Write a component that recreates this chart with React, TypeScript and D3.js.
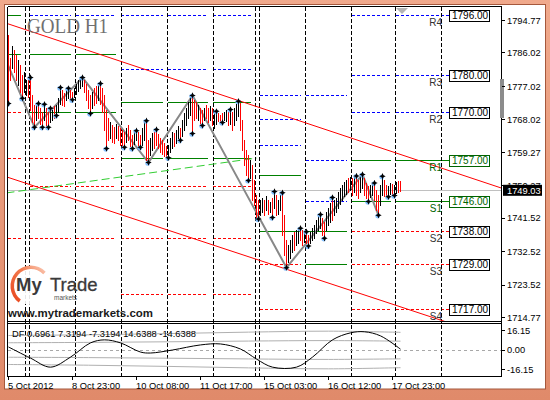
import React from 'react';
import * as d3 from 'd3';

// Hourly OHLC bars, 5 Oct 2012 15:00 .. 18 Oct 2012 (index = bar number)
const opens = [
  1790.0,1784.0,1782.4,1786.2,1784.8,1778.0,1782.0,1779.4,1776.0,1775.1,
  1778.1,1778.9,1774.0,1771.2,1768.4,1771.9,1770.5,1769.5,1768.4,1770.6,
  1769.4,1767.8,1768.2,1771.2,1769.6,1770.5,1772.7,1775.4,1774.6,1773.6,
  1774.2,1775.5,1775.0,1774.4,1775.3,1776.1,1776.9,1777.4,1778.2,1777.0,
  1775.3,1774.0,1771.6,1776.0,1776.5,1773.7,1777.2,1775.9,1774.0,1769.8,
  1767.8,1763.5,1766.0,1765.5,1763.5,1765.7,1765.1,1764.6,1764.1,1762.4,
  1766.0,1764.6,1763.3,1761.9,1762.9,1764.1,1763.3,1761.6,1763.0,1767.2,
  1762.0,1758.9,1760.3,1764.1,1764.9,1763.6,1762.5,1762.0,1761.1,1760.3,
  1758.3,1759.7,1760.8,1763.8,1762.1,1763.5,1765.2,1764.0,1765.6,1767.0,
  1768.9,1769.7,1774.0,1772.7,1772.2,1768.3,1770.6,1770.0,1768.3,1771.4,
  1770.6,1768.3,1770.6,1766.2,1767.3,1769.2,1768.8,1769.2,1768.2,1767.8,
  1769.5,1767.3,1769.5,1767.0,1768.3,1769.4,1771.9,1767.2,1761.9,1759.2,
  1757.9,1752.7,1755.1,1751.1,1747.0,1745.7,1742.8,1743.6,1745.8,1744.1,
  1745.8,1743.6,1746.3,1744.6,1747.1,1743.0,1744.1,1747.8,1741.7,1734.9,
  1730.1,1731.2,1732.8,1737.2,1734.7,1735.2,1738.3,1737.7,1735.4,1737.4,
  1736.4,1735.1,1736.0,1736.5,1737.9,1738.7,1739.3,1740.9,1739.9,1738.7,
  1740.1,1740.9,1746.6,1742.8,1743.6,1744.6,1745.7,1746.8,1747.9,1748.4,
  1751.7,1749.5,1751.7,1748.9,1752.2,1751.2,1748.9,1750.0,1751.7,1750.4,
  1749.6,1747.6,1748.1,1750.4,1748.4,1747.1,1745.4,1748.1,1751.2,1749.8,
  1747.8,1748.3,1750.2,1748.0,1748.6,1751.0,1750.6,
];
const highs = [
  1790.7,1784.5,1787.8,1786.7,1785.4,1784.0,1782.7,1780.0,1780.8,1778.6,
  1778.6,1779.4,1774.6,1771.9,1771.9,1772.4,1771.1,1770.0,1772.2,1771.1,
  1770.0,1771.1,1770.5,1771.6,1771.9,1773.8,1776.7,1775.9,1775.1,1775.9,
  1776.5,1775.9,1775.4,1776.5,1777.5,1778.6,1778.9,1779.4,1778.6,1777.5,
  1775.9,1774.6,1775.4,1776.5,1777.0,1777.3,1777.8,1776.5,1774.6,1770.5,
  1768.4,1767.3,1766.5,1766.0,1766.8,1766.2,1765.7,1765.1,1764.6,1765.7,
  1766.5,1765.1,1763.8,1764.6,1765.1,1764.6,1763.8,1765.7,1767.3,1767.8,
  1762.5,1763.0,1764.3,1764.6,1765.4,1764.1,1763.0,1762.5,1761.6,1760.8,
  1761.1,1763.0,1764.6,1764.3,1765.1,1766.2,1765.7,1767.8,1769.7,1771.1,
  1772.7,1774.0,1774.6,1773.2,1772.7,1771.9,1771.1,1770.5,1771.1,1771.9,
  1771.1,1771.6,1771.1,1770.0,1770.3,1769.7,1769.2,1769.7,1770.0,1770.5,
  1770.0,1770.8,1770.0,1771.1,1772.2,1773.0,1772.4,1767.8,1762.5,1759.8,
  1758.4,1757.1,1755.7,1751.7,1747.6,1746.3,1746.3,1746.8,1746.3,1747.4,
  1746.3,1745.8,1746.8,1748.7,1747.6,1746.3,1747.6,1748.4,1742.3,1735.5,
  1734.2,1735.5,1736.9,1737.7,1738.2,1738.5,1738.8,1738.2,1737.7,1737.9,
  1736.9,1737.7,1738.8,1739.6,1740.9,1742.0,1742.5,1741.4,1740.4,1743.1,
  1744.1,1745.5,1747.1,1746.3,1746.9,1748.4,1749.5,1750.3,1751.1,1751.7,
  1752.2,1752.5,1752.2,1752.5,1752.9,1751.7,1752.8,1753.3,1752.2,1750.9,
  1750.1,1750.3,1750.9,1751.0,1749.0,1747.6,1750.3,1752.8,1751.7,1750.3,
  1750.1,1750.9,1750.6,1750.3,1751.1,1751.4,1751.4,
];
const lows = [
  1772.4,1778.6,1781.8,1780.8,1778.6,1777.3,1775.4,1773.8,1775.4,1774.6,
  1774.0,1770.5,1767.3,1766.0,1767.8,1768.4,1766.8,1766.0,1767.8,1766.5,
  1766.0,1767.3,1767.8,1768.4,1769.2,1770.0,1772.2,1771.9,1771.6,1773.2,
  1773.8,1773.8,1773.4,1774.0,1774.8,1775.7,1776.5,1777.0,1775.4,1773.2,
  1771.1,1769.7,1771.1,1771.9,1772.4,1773.2,1772.2,1770.0,1765.1,1760.3,
  1762.5,1763.0,1761.9,1761.6,1763.0,1762.5,1761.1,1761.1,1760.6,1761.9,
  1762.5,1760.8,1760.3,1761.4,1762.5,1760.8,1760.6,1761.1,1762.5,1757.1,
  1756.5,1758.4,1759.8,1760.3,1761.1,1760.3,1759.2,1758.7,1758.1,1758.0,
  1757.8,1759.2,1760.3,1760.8,1761.6,1763.0,1762.5,1763.5,1765.1,1766.5,
  1768.4,1769.2,1764.3,1767.8,1768.4,1767.8,1766.8,1766.5,1767.8,1768.4,
  1767.3,1767.8,1766.5,1765.7,1766.8,1767.6,1767.5,1767.3,1767.8,1767.5,
  1766.5,1766.8,1765.1,1766.5,1767.8,1768.9,1765.1,1759.8,1755.7,1753.0,
  1751.7,1752.2,1746.3,1744.9,1741.8,1741.3,1742.3,1743.1,1742.3,1743.6,
  1742.5,1743.1,1741.7,1744.1,1742.3,1742.5,1743.6,1736.9,1731.5,1728.2,
  1729.6,1730.7,1732.3,1732.8,1734.2,1734.7,1735.5,1734.2,1735.0,1734.7,
  1734.0,1734.7,1735.5,1736.1,1737.4,1738.2,1738.8,1736.9,1736.1,1738.2,
  1739.6,1740.4,1740.9,1742.3,1743.1,1744.1,1745.2,1746.3,1747.4,1747.9,
  1748.4,1749.0,1747.6,1748.4,1747.6,1746.8,1748.4,1749.5,1747.6,1746.8,
  1746.0,1747.1,1747.6,1746.3,1743.6,1742.3,1744.9,1747.6,1747.4,1747.4,
  1747.3,1747.9,1747.9,1747.6,1748.2,1748.4,1748.7,
];
const closes = [
  1773.0,1779.2,1787.2,1781.3,1779.3,1783.4,1776.0,1774.4,1780.2,1778.1,
  1774.6,1771.2,1768.0,1766.6,1771.4,1768.9,1767.3,1766.5,1771.6,1767.0,
  1766.5,1770.6,1770.1,1768.8,1771.4,1773.2,1776.1,1772.4,1772.1,1775.4,
  1776.0,1774.1,1773.9,1776.0,1777.0,1778.1,1778.4,1778.9,1775.9,1773.8,
  1771.7,1770.3,1774.8,1772.5,1773.0,1776.8,1772.8,1770.6,1765.8,1761.0,
  1763.0,1766.8,1762.4,1762.1,1766.2,1763.0,1761.6,1761.6,1761.1,1765.2,
  1763.0,1761.3,1760.8,1764.1,1764.7,1761.3,1761.1,1765.1,1766.8,1757.8,
  1757.1,1762.4,1763.8,1760.8,1761.6,1760.8,1759.7,1759.2,1758.6,1758.3,
  1760.6,1762.5,1764.1,1761.3,1764.6,1765.7,1763.0,1767.3,1769.2,1770.6,
  1772.2,1773.5,1765.0,1768.3,1768.9,1771.4,1767.3,1767.0,1770.6,1768.9,
  1767.8,1771.1,1767.0,1769.5,1769.8,1767.9,1767.7,1767.7,1769.6,1770.1,
  1767.0,1770.3,1765.7,1770.6,1771.7,1772.4,1765.7,1760.4,1756.3,1753.6,
  1752.3,1756.5,1747.0,1745.5,1742.3,1742.0,1745.8,1746.3,1742.8,1746.9,
  1743.0,1745.3,1742.2,1748.2,1742.8,1745.8,1747.1,1737.5,1732.1,1728.8,
  1733.6,1735.0,1736.3,1733.3,1737.7,1738.0,1736.0,1734.7,1737.2,1735.2,
  1734.6,1737.2,1738.3,1739.1,1740.4,1741.5,1742.0,1737.4,1736.6,1742.6,
  1743.6,1745.0,1741.4,1745.8,1746.5,1747.9,1749.0,1749.8,1750.6,1751.2,
  1748.9,1752.3,1748.1,1752.0,1748.1,1747.3,1752.3,1752.8,1748.1,1747.3,
  1746.5,1749.8,1750.4,1746.8,1744.2,1742.8,1749.8,1752.2,1747.9,1747.8,
  1749.6,1750.4,1748.3,1749.9,1750.7,1748.8,1749.03,
];
const lastPrice = 1749.03;

// Fractal swing markers (bar numbers)
const fractalHighBars = [11, 15, 18, 21, 26, 30, 37, 46, 64, 69, 74, 92, 104, 111, 115, 133, 137, 146, 149, 156, 162, 174, 177, 183, 187];
const fractalLowBars = [0, 7, 13, 17, 20, 24, 32, 41, 49, 58, 62, 66, 70, 80, 86, 92, 97, 107, 120, 125, 132, 139, 150, 158, 180, 185, 190, 193];

// ZigZag swing points
const zigzagBars = [-8, 13, 37, 70, 92, 139, 177, 185];
const zigzagPrices = [1792.6, 1766.0, 1779.4, 1756.5, 1774.6, 1728.2, 1753.3, 1742.3];

// Day boundaries (first bar of each session)
const daySeparators = [9, 11, 34, 57, 80, 103, 124, 126, 149, 172, 194, 217];

// Daily support / resistance levels
const levelDayStarts = [0, 11, 34, 57, 80, 103, 126, 149, 172, 194];
const levelDayEnds = [9, 34, 57, 80, 103, 124, 149, 172, 194, 217];
const blueLevels = [[], [1796], [1796], [1796, 1781.7], [1796, 1781.7], [1796, 1781.7], [1774.5, 1768, 1761], [1774.5, 1757, 1746], [1796, 1780, 1770], [1796, 1780, 1770]];
const greenLevels = [[1796, 1785.7], [1785.7, 1770], [1785.7, 1770], [1772.7, 1757.7], [1772.7, 1757.7], [1772.7, 1757.7], [1753, 1738], [1738, 1729], [1757, 1746], [1757, 1746]];
const redLevels = [[1770, 1757.7, 1736], [1757.7, 1750, 1736], [1757.7, 1750, 1736], [1750, 1736, 1721], [1750, 1736, 1721], [1750, 1736, 1721], [1729, 1717], [], [1738, 1729, 1717], [1738, 1729, 1717]];

const pivotNames = ['R4', 'R3', 'R2', 'R1', 'S1', 'S2', 'S3', 'S4'];
const pivotValues = [1796, 1780, 1770, 1757, 1746, 1738, 1729, 1717];

// Trend channel and trend line (bar, price)
const channelUpperBars = [-1, 250];
const channelUpperPrices = [1794.01, 1749.0];
const channelLowerBars = [-1, 230];
const channelLowerPrices = [1752.65, 1711.6];
const trendBars = [-1, 124];
const trendPrices = [1748.33, 1757.71];

// Axes
const priceTicks = [1794.77, 1786.02, 1777.02, 1768.02, 1759.27, 1750.27, 1741.52, 1732.52, 1723.52, 1714.77];
const timeTickBars = [0, 32, 64, 96, 128, 160, 192];
const timeTickLabels = ['5 Oct 2012', '8 Oct 23:00', '10 Oct 08:00', '11 Oct 17:00', '15 Oct 03:00', '16 Oct 12:00', '17 Oct 23:00'];

// DF oscillator sub-window
const dfBars = [0, 11, 21, 31, 41, 48, 56, 66, 71, 82, 96, 106, 116, 124, 132, 144, 152, 162, 171, 178, 186, 196];
const dfValues = [2.5, -6.7, -14.2, -5.9, 5.9, 8.4, 5.9, -1.7, -2.5, 0, 4.2, 5.0, 0.8, -7.5, -14.2, -14.2, -5.9, 8.4, 14.2, 15.1, 11.7, 0.6961];
const bandBars = [0, 40, 80, 120, 160, 196];
const bandWidths = [6.0, 6.3, 6.8, 7.4, 7.8, 7.3194];
const bandMultipliers = [2, 1, -1, -2];
const dfTicks = [16.15, 0, -16.15];
const dfLegend = 'DF 0.6961 7.3194 -7.3194 14.6388 -14.6388';

const FONT = '"Liberation Sans", Arial, sans-serif';

const crisp = (v: number) => Math.round(v - 0.5) + 0.5;

export default function App() {
  const plotL = 7.5;
  const plotR = 501.5;
  const plotT = 6.5;
  const mainB = 321.5;
  const indT = 323.5;
  const indB = 376.5;

  const x = d3.scaleLinear().domain([0, 196]).range([8.5, 400.5]);
  const y = d3.scaleLinear().domain([1714.77, 1794.77]).range([317.5, 20.5]);
  const yd = d3.scaleLinear().domain([-16.15, 16.15]).range([369.5, 330.5]);

  const line = d3.line<[number, number]>();
  const smooth = d3.line<[number, number]>().curve(d3.curveCatmullRom.alpha(0.5));

  const zigzagPath = line(zigzagBars.map((b, i) => [x(b), y(zigzagPrices[i])] as [number, number])) || '';
  const dfPath = smooth(dfBars.map((b, i) => [x(b), yd(dfValues[i])] as [number, number])) || '';
  const bandPaths = bandMultipliers.map(
    (m) => smooth(bandBars.map((b, i) => [x(b), yd(m * bandWidths[i])] as [number, number])) || ''
  );

  const segEnd = (d: number) => (d === levelDayStarts.length - 1 ? 449 : x(levelDayEnds[d]) - 6);
  const segStart = (d: number) => (d === 0 ? plotL : x(levelDayStarts[d]) - 1);

  const levelSegments: { x1: number; x2: number; y: number; kind: string }[] = [];
  levelDayStarts.forEach((_, d) => {
    blueLevels[d].forEach((p) => levelSegments.push({ x1: segStart(d), x2: segEnd(d), y: crisp(y(p)), kind: 'b' }));
    greenLevels[d].forEach((p) => levelSegments.push({ x1: segStart(d), x2: segEnd(d), y: crisp(y(p)), kind: 'g' }));
    redLevels[d].forEach((p) => levelSegments.push({ x1: segStart(d), x2: segEnd(d), y: crisp(y(p)), kind: 'r' }));
  });
  const levelStyle: Record<string, { stroke: string; dash?: string }> = {
    b: { stroke: '#0000ff', dash: '3,2' },
    g: { stroke: '#008000' },
    r: { stroke: '#ff0000', dash: '3,2' },
  };

  const ringArc = d3.arc()({ innerRadius: 17, outerRadius: 20.5, startAngle: -2.5, endAngle: 0.8 } as any) || '';
  const star = 'M0,-3.2L1,-1L3.2,0L1,1L0,3.2L-1,1L-3.2,0L-1,-1Z';

  const yLast = y(lastPrice);

  return (
    <svg width={550} height={400} style={{ position: 'absolute', left: 0, top: 0, display: 'block' }} fontFamily={FONT}>
      <defs>
        <clipPath id="mainClip">
          <rect x={8} y={7} width={493} height={314.5} />
        </clipPath>
        <clipPath id="indClip">
          <rect x={8} y={324} width={493} height={52} />
        </clipPath>
        <linearGradient id="frameGrad" x1="0" y1="0" x2="0" y2="1">
          <stop offset="0" stopColor="#f0a98c" />
          <stop offset="1" stopColor="#e08a6a" />
        </linearGradient>
        <linearGradient id="ringGrad" x1="0" y1="1" x2="1" y2="0">
          <stop offset="0" stopColor="#e8431a" />
          <stop offset="0.6" stopColor="#f37b4e" />
          <stop offset="1" stopColor="#fbd2c0" />
        </linearGradient>
      </defs>

      {/* window frame */}
      <rect x={0} y={0} width={550} height={400} fill="url(#frameGrad)" />
      <rect x={4.5} y={4.5} width={541} height={384.5} fill="#ffffff" stroke="#a5583c" />

      {/* daily levels */}
      <g clipPath="url(#mainClip)" shapeRendering="crispEdges">
        {levelSegments.map((s, i) => (
          <line key={'lv' + i} x1={Math.round(s.x1)} x2={Math.round(s.x2)} y1={s.y} y2={s.y}
            stroke={levelStyle[s.kind].stroke} strokeDasharray={levelStyle[s.kind].dash} strokeWidth={1} />
        ))}
      </g>

      {/* day separators */}
      <g shapeRendering="crispEdges">
        {daySeparators.map((s) => (
          <line key={'sep' + s} x1={x(s) - 1} x2={x(s) - 1} y1={plotT} y2={indB}
            stroke="#000" strokeDasharray="4,2" strokeWidth={1} />
        ))}
      </g>

      <g clipPath="url(#mainClip)">
        {/* current price */}
        <line x1={plotL} x2={plotR} y1={crisp(yLast)} y2={crisp(yLast)} stroke="#c0c0c0" shapeRendering="crispEdges" />
        {/* trend lines */}
        <line x1={x(channelUpperBars[0])} y1={y(channelUpperPrices[0])} x2={x(channelUpperBars[1])} y2={y(channelUpperPrices[1])} stroke="#ff0000" strokeWidth={1} />
        <line x1={x(channelLowerBars[0])} y1={y(channelLowerPrices[0])} x2={x(channelLowerBars[1])} y2={y(channelLowerPrices[1])} stroke="#ff0000" strokeWidth={1} />
        <line x1={x(trendBars[0])} y1={y(trendPrices[0])} x2={x(trendBars[1])} y2={y(trendPrices[1])} stroke="#32cd32" strokeDasharray="8,4" strokeWidth={1} />

        {/* zigzag */}
        <path d={zigzagPath} fill="none" stroke="#888888" strokeWidth={2} />

        {/* bars */}
        <g shapeRendering="crispEdges">
          {highs.map((h, i) => (
            <line key={'bar' + i} x1={x(i)} x2={x(i)} y1={y(h) - 0.5} y2={y(lows[i]) + 0.5}
              stroke={closes[i] < opens[i] ? '#ff0000' : '#000000'} strokeWidth={1} />
          ))}
        </g>

        {/* fractals */}
        {fractalHighBars.map((b) => (
          <g key={'fh' + b} transform={`translate(${x(b)},${y(highs[b])})`}>
            <circle cx={-0.8} cy={0.8} r={2.4} fill="#6fb6ff" opacity={0.85} />
            <path d={star} fill="#000" />
          </g>
        ))}
        {fractalLowBars.map((b) => (
          <g key={'fl' + b} transform={`translate(${x(b)},${y(lows[b])})`}>
            <circle cx={-0.8} cy={0.8} r={2.4} fill="#6fb6ff" opacity={0.85} />
            <path d={star} fill="#000" />
          </g>
        ))}
      </g>

      {/* pivot labels for the current day */}
      {pivotValues.map((p, i) => {
        const yy = crisp(y(p));
        const green = pivotNames[i] === 'R1' || pivotNames[i] === 'S1';
        const col = green ? '#006400' : '#000000';
        return (
          <g key={'pv' + i}>
            <text x={442} y={yy + 10.5} fontSize={10} textAnchor="end" fill={green ? '#006400' : '#333333'}>{pivotNames[i]}</text>
            <rect x={449.5} y={yy - 5.5} width={40} height={11} fill="#ffffff" stroke={col} shapeRendering="crispEdges" />
            <text x={452} y={yy + 3.8} fontSize={10} fill={col}>{p.toFixed(2)}</text>
          </g>
        );
      })}

      {/* chart shift marker */}
      <path d="M396,8L408,8L402,14Z" fill="#b4b4b4" />

      {/* title */}
      <text x={27} y={33} fontFamily='"Liberation Serif", "Times New Roman", serif' fontSize={21}
        textLength={81} lengthAdjust="spacingAndGlyphs" fill="#707070">GOLD H1</text>

      {/* logo */}
      <circle cx={31} cy={286} r={19} fill="#ffffff" opacity={0.9} />
      <path d={ringArc} transform="translate(31,286)" fill="url(#ringGrad)" />
      <text x={16} y={291} fontSize={18.5} fontWeight="bold" fill="#3a3a3a">My</text>
      <text x={50} y={291} fontSize={18.5} fill="#3a3a3a" stroke="#3a3a3a" strokeWidth={0.3}>Trade</text>
      <text x={54} y={300} fontSize={6.5} fill="#555555">markets</text>
      <text x={8} y={316.5} fontSize={11} fontWeight="bold" fill="#1a1a1a" textLength={145} lengthAdjust="spacingAndGlyphs">www.mytrademarkets.com</text>

      {/* indicator sub-window */}
      <g clipPath="url(#indClip)">
        <line x1={plotL} x2={plotR} y1={crisp(yd(0))} y2={crisp(yd(0))} stroke="#a8a8a8" strokeDasharray="3,3" shapeRendering="crispEdges" />
        {bandPaths.map((d, i) => (
          <path key={'band' + i} d={d} fill="none" stroke="#b0b0b0" strokeWidth={1} />
        ))}
        <path d={dfPath} fill="none" stroke="#000" strokeWidth={1} />
      </g>
      <text x={12} y={337} fontSize={9.3} fill="#000">{dfLegend}</text>

      {/* panel borders */}
      <g shapeRendering="crispEdges">
        <line x1={plotL} x2={plotL} y1={plotT} y2={indB} stroke="#000" />
        <line x1={plotR} x2={plotR} y1={plotT} y2={indB} stroke="#000" />
        <line x1={plotL} x2={plotR} y1={plotT} y2={plotT} stroke="#000" />
        <line x1={plotL} x2={plotR} y1={mainB} y2={mainB} stroke="#000" />
        <line x1={plotL} x2={plotR} y1={indT} y2={indT} stroke="#000" />
        <line x1={plotL} x2={plotR} y1={indB} y2={indB} stroke="#000" />
      </g>

      {/* price axis */}
      <rect x={500} y={79} width={4} height={39} fill="#8c8c8c" />
      {priceTicks.map((p) => (
        <g key={'pt' + p}>
          <line x1={plotR} x2={504.5} y1={crisp(y(p))} y2={crisp(y(p))} stroke="#000" shapeRendering="crispEdges" />
          <text x={507} y={y(p) + 3.3} fontSize={9.3} fill="#000">{p.toFixed(2)}</text>
        </g>
      ))}
      <rect x={503} y={yLast - 5.5} width={39} height={11} fill="#000" />
      <text x={507} y={yLast + 3.3} fontSize={9.3} fill="#fff">{lastPrice.toFixed(2)}</text>

      {dfTicks.map((v) => (
        <g key={'dt' + v}>
          <line x1={plotR} x2={504.5} y1={crisp(yd(v))} y2={crisp(yd(v))} stroke="#000" shapeRendering="crispEdges" />
          <text x={507} y={yd(v) + 3.3} fontSize={9.3} fill="#000">{v.toFixed(2)}</text>
        </g>
      ))}

      {/* time axis */}
      {timeTickBars.map((b, i) => (
        <g key={'tt' + b}>
          <line x1={x(b)} x2={x(b)} y1={indB} y2={380} stroke="#000" shapeRendering="crispEdges" />
          <text x={x(b) - 0.5} y={388.5} fontSize={9.3} fill="#000">{timeTickLabels[i]}</text>
        </g>
      ))}
    </svg>
  );
}
